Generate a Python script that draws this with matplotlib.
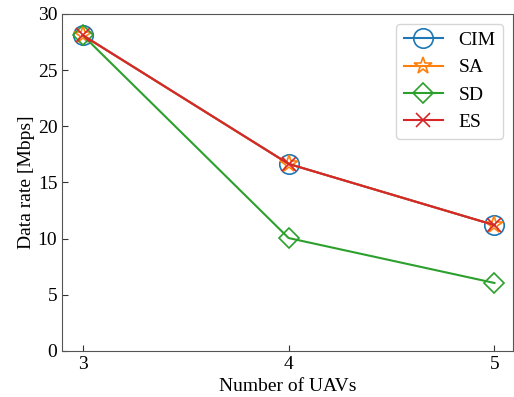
import numpy as np
import matplotlib.pyplot as plt

plt.rcParams['font.family'] = ['Liberation Serif', 'DejaVu Serif']
plt.rcParams['font.size'] = 14

uavs = [3, 4, 5]
cim = [28.1, 16.65, 11.2]
sa = [28.1, 16.65, 11.2]
sd = [28.1, 10.05, 6.05]
es = [28.1, 16.65, 11.2]

fig = plt.figure(figsize=(5.14, 3.97), dpi=100)
ax = fig.add_axes([0.121, 0.116, 0.877, 0.849])

ax.plot(uavs, cim, color='tab:blue', marker='o', ms=14, mfc='none', mew=1.2, lw=1.5, label='CIM')
ax.plot(uavs, sa, color='tab:orange', marker='*', ms=13, mfc='none', mew=1.2, lw=1.5, label='SA')
ax.plot(uavs, sd, color='tab:green', marker='D', ms=10, mfc='none', mew=1.2, lw=1.5, label='SD')
ax.plot(uavs, es, color='tab:red', marker='x', ms=10, mfc='none', mew=1.2, lw=1.5, label='ES')

ax.set_xlim(2.9, 5.09)
ax.set_ylim(0, 30)
ax.set_xticks(uavs)
ax.set_yticks([0, 5, 10, 15, 20, 25, 30])
ax.tick_params(direction='in', length=4, colors='#333333', labelcolor='black', labelsize=14)
for s in ax.spines.values():
    s.set_color('#555555')
ax.set_xlabel('Number of UAVs')
ax.set_ylabel('Data rate [Mbps]', labelpad=2)
ax.legend(loc='upper right', fontsize=14, handlelength=2.0)

fig.savefig('out.png', dpi=100)
